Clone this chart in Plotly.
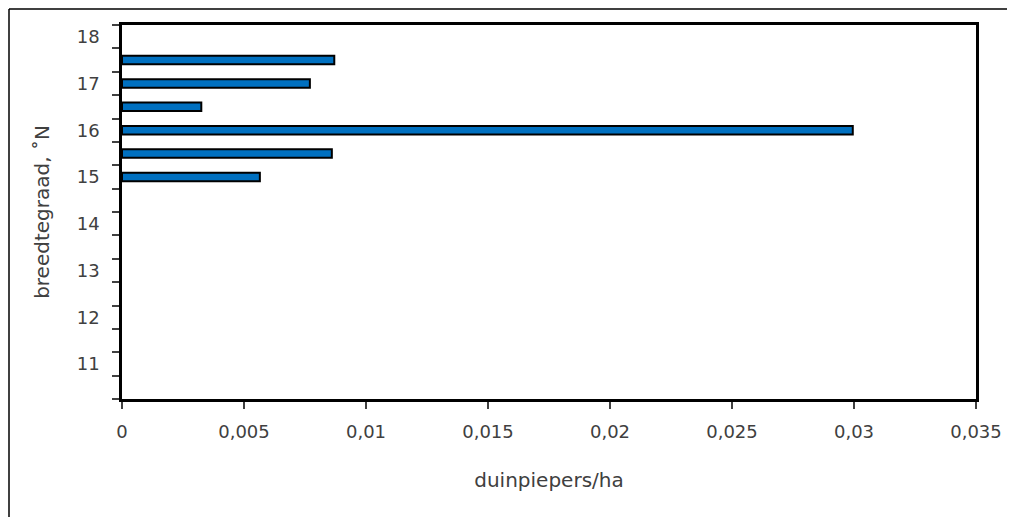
import plotly.graph_objects as go

latitude = [18, 17.5, 17, 16.5, 16, 15.5, 15, 14.5, 14, 13.5, 13, 12.5, 12, 11.5, 11, 10.5]
density = [None, 0.0087, 0.0077, 0.00325, 0.02995, 0.0086, 0.00565, None, None, None, None, None, None, None, None, None]
y_labels = [11, 12, 13, 14, 15, 16, 17, 18]
x_ticks = [0, 0.005, 0.01, 0.015, 0.02, 0.025, 0.03, 0.035]
x_ticktext = ["0", "0,005", "0,01", "0,015", "0,02", "0,025", "0,03", "0,035"]

OFF = 8  # default page body margin
W, H = 1015 - OFF, 517 - OFF
L, T = 122 - OFF, 25 - OFF
R = W - (976 - OFF)
B = H - (399 - OFF)
pw, ph = W - L - R, H - T - B

font = dict(family="DejaVu Sans", size=18, color="#404040")

fig = go.Figure()
fig.add_trace(go.Bar(
    x=density, y=latitude, orientation="h", width=0.18,
    marker=dict(color="#0070C0", line=dict(color="black", width=2)),
))

def px_x(p):
    return (p - OFF - L) / pw

def px_y(p):
    return (H - B - (p - OFF)) / ph

fig.update_layout(
    width=W, height=H,
    margin=dict(l=L, r=R, t=T, b=B),
    paper_bgcolor="white", plot_bgcolor="white",
    showlegend=False, font=font,
    xaxis=dict(
        range=[0, 0.035], tickvals=x_ticks, ticktext=x_ticktext,
        ticks="outside", ticklen=7, tickwidth=1.5, tickcolor="#404040",
        showline=True, linecolor="black", linewidth=2.5, mirror=True,
        showgrid=False, zeroline=False, ticklabelstandoff=8,
        title=dict(text="duinpiepers/ha", font=dict(size=20), standoff=32),
    ),
    yaxis=dict(
        range=[10.25, 18.25], tickvals=y_labels,
        ticks="outside", ticklen=8, tickcolor="rgba(0,0,0,0)",
        minor=dict(ticks="outside", tick0=10.25, dtick=0.5, ticklen=7,
                   tickcolor="#404040", tickwidth=1.5, showgrid=False),
        showline=True, linecolor="black", linewidth=2.5, mirror=True,
        showgrid=False, zeroline=False, ticklabelstandoff=8,
        title=dict(text="breedtegraad, ˚N", font=dict(size=20), standoff=22),
    ),
    shapes=[
        dict(type="line", xref="paper", yref="paper",
             x0=px_x(9), x1=px_x(9), y0=px_y(9), y1=px_y(530),
             line=dict(color="black", width=1.5)),
        dict(type="line", xref="paper", yref="paper",
             x0=px_x(9), x1=px_x(1030), y0=px_y(9), y1=px_y(9),
             line=dict(color="black", width=1.5)),
    ],
)

fig.write_html("out.html")
